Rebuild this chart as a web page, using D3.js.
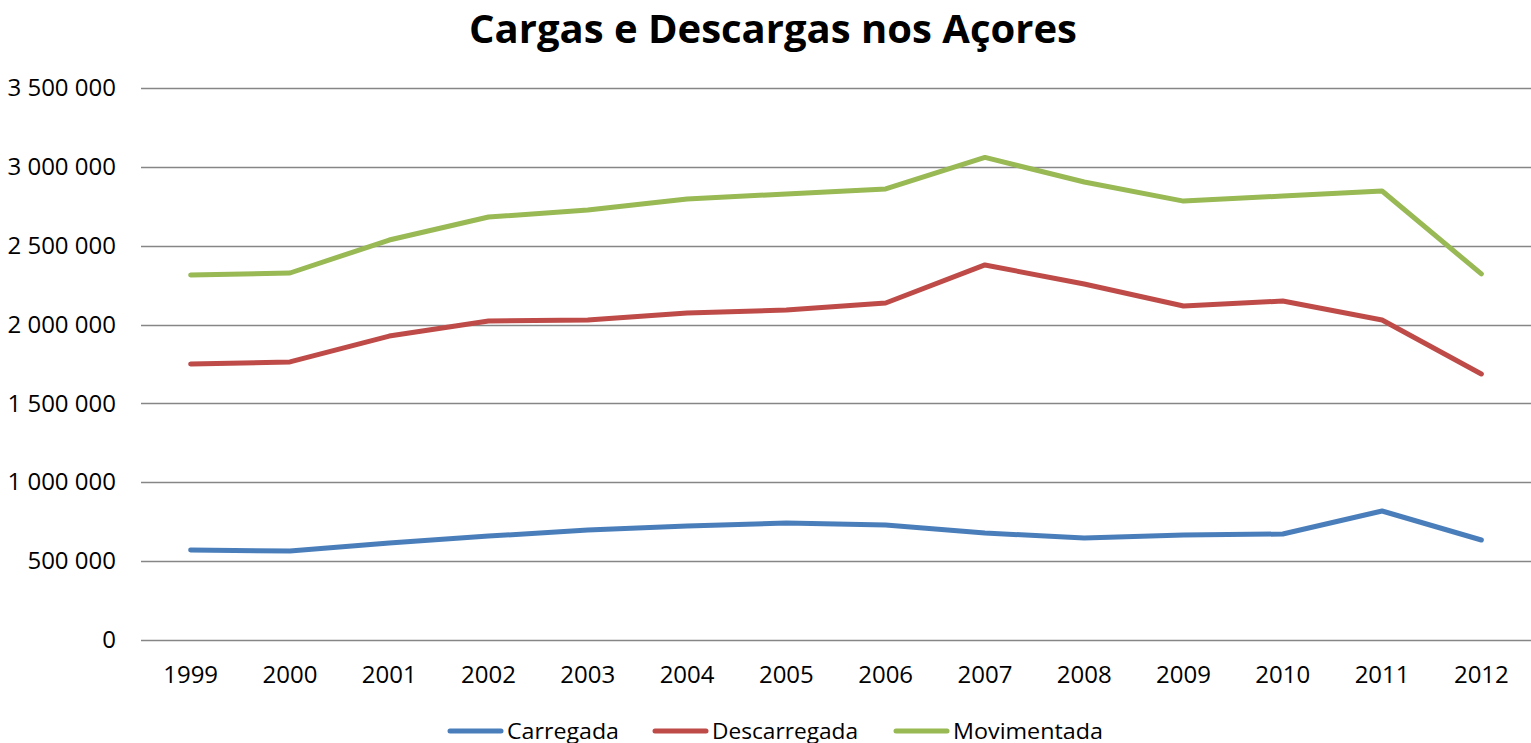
<!DOCTYPE html>
<html>
<head>
<meta charset="utf-8">
<script src="https://cdn.jsdelivr.net/npm/d3@7"></script>
<style>
  body { margin: 0; background: #fff; }
  text { font-family: "Open Sans", Lato, sans-serif; fill: #000; }
</style>
</head>
<body>
<div id="chart"></div>
<script>
const years = ["1999","2000","2001","2002","2003","2004","2005","2006","2007","2008","2009","2010","2011","2012"];
const carregada = [571000, 564000, 615000, 659000, 697000, 723000, 742000, 729000, 678000, 647000, 666000, 672000, 818000, 634000];
const descarregada = [1750000, 1763000, 1927000, 2023000, 2029000, 2073000, 2092000, 2137000, 2378000, 2257000, 2118000, 2149000, 2029000, 1687000];
const movimentada = [2314000, 2327000, 2536000, 2682000, 2726000, 2796000, 2828000, 2860000, 3060000, 2904000, 2783000, 2815000, 2847000, 2321000];
const seriesNames = ["Carregada", "Descarregada", "Movimentada"];
const yTicks = [0, 500000, 1000000, 1500000, 2000000, 2500000, 3000000, 3500000];

const width = 1531;
const height = 743;
const margin = {top: 88, left: 141, right: 0, bottom: 103};

const svg = d3.select("#chart")
    .append("svg")
    .attr("width", width)
    .attr("height", height);

const xScale = d3.scaleBand()
    .domain(years)
    .range([margin.left, width - margin.right]);
const yScale = d3.scaleLinear()
    .domain([0, 3500000])
    .range([height - margin.bottom, margin.top]);
const colorScale = d3.scaleOrdinal()
    .domain(seriesNames)
    .range(["#4a7ebb", "#be4b48", "#98b954"]);

const fmt = function(v) { return d3.format(",")(v).replace(/,/g, " "); };

// gridlines
svg.append("g")
    .selectAll("line")
    .data(yTicks)
    .enter()
    .append("line")
        .attr("x1", margin.left)
        .attr("x2", width - margin.right)
        .attr("y1", function(d) { return Math.round(yScale(d)) + 0.5; })
        .attr("y2", function(d) { return Math.round(yScale(d)) + 0.5; })
        .attr("stroke", "#868686")
        .attr("stroke-width", 1.5);

const yAxis = svg.append("g")
    .attr("transform", `translate(${margin.left - 25},0)`)
    .call(d3.axisLeft(yScale).tickValues(yTicks).tickFormat(fmt).tickSize(0).tickPadding(0));
yAxis.select(".domain").remove();
yAxis.selectAll("text").style("font-size", "24px").style("font-family", null);

const xAxis = svg.append("g")
    .attr("transform", `translate(0,${height - margin.bottom})`)
    .call(d3.axisBottom(xScale).tickSize(0).tickPadding(26));
xAxis.select(".domain").remove();
xAxis.selectAll("text").style("font-size", "24px").style("font-family", null);

const data = [
    {name: "Carregada", values: carregada},
    {name: "Descarregada", values: descarregada},
    {name: "Movimentada", values: movimentada}
];

const line = d3.line()
    .x(function(d, i) { return xScale(years[i]) + xScale.bandwidth() / 2; })
    .y(function(d) { return yScale(d); });

svg.selectAll(".series")
    .data(data)
    .enter()
    .append("path")
        .attr("class", "series")
        .attr("d", function(d) { return line(d.values); })
        .attr("fill", "none")
        .attr("stroke", function(d) { return colorScale(d.name); })
        .attr("stroke-width", 5)
        .attr("stroke-linejoin", "round")
        .attr("stroke-linecap", "round");

svg.append("text")
    .attr("x", 773)
    .attr("y", 43)
    .attr("text-anchor", "middle")
    .style("font-size", "40px")
    .style("font-weight", "bold")
    .text("Cargas e Descargas nos Açores");

// legend
const legendX = [450, 655, 896];
const legend = svg.selectAll(".legend")
    .data(seriesNames)
    .enter()
    .append("g")
        .attr("class", "legend")
        .attr("transform", function(d, i) { return `translate(${legendX[i]},731)`; });
legend.append("line")
    .attr("x1", 0).attr("x2", 51)
    .attr("stroke", function(d) { return colorScale(d); })
    .attr("stroke-width", 5)
    .attr("stroke-linecap", "round");
legend.append("text")
    .attr("x", 57)
    .attr("dy", "0.35em")
    .style("font-size", "22px")
    .attr("textLength", function(d, i) { return [112, 146, 150][i]; })
    .attr("lengthAdjust", "spacingAndGlyphs")
    .text(function(d) { return d; });
</script>
</body>
</html>
